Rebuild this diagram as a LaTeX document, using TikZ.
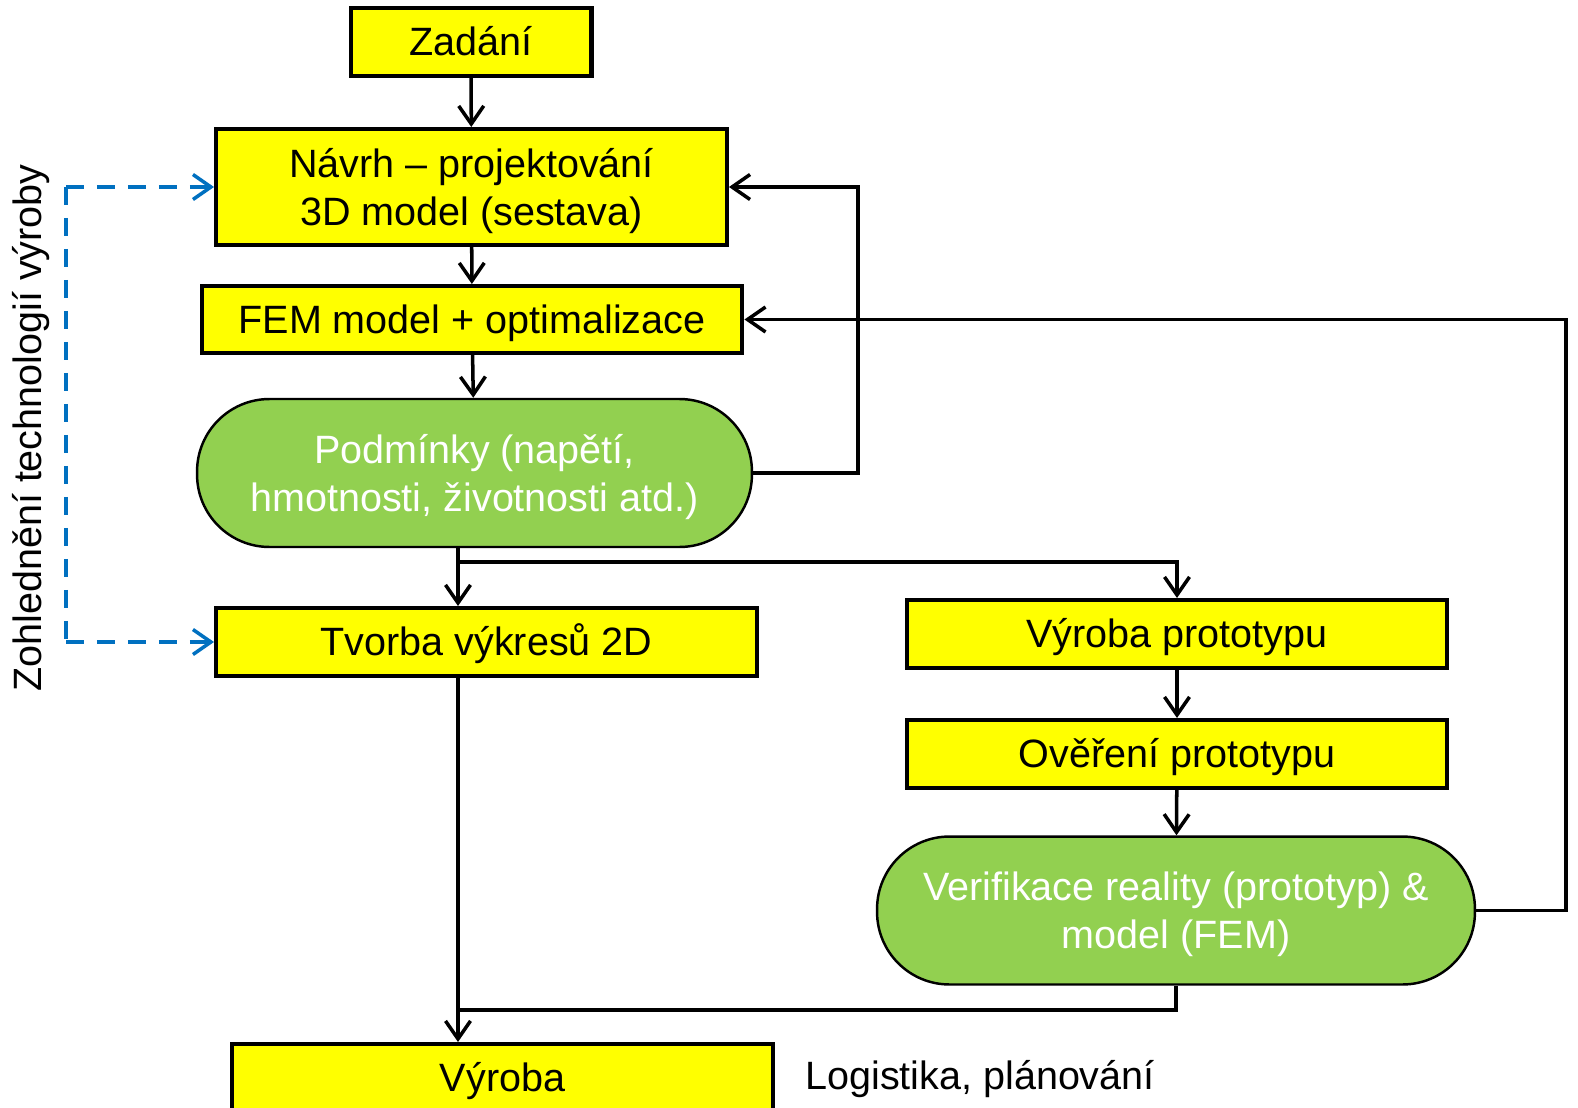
\documentclass[tikz,border=0pt]{standalone}
\usepackage{fontspec}
\setmainfont{Liberation Sans}
\usetikzlibrary{arrows.meta}
\definecolor{yellowbox}{RGB}{255,255,0}
\definecolor{greencond}{RGB}{146,208,80}
\definecolor{bluetech}{RGB}{0,112,192}
\newcommand{\capline}[1]{\vphantom{H}\smash{#1}}
\begin{document}
\begin{tikzpicture}[
    x=0.02cm, y=-0.02cm,
    font=\fontsize{22.5}{27.5}\selectfont,
    box/.style={draw, line width=2.3pt, fill=yellowbox, align=center, inner sep=2pt, minimum height=1.36cm},
    cond/.style={draw, line width=1.4pt, fill=greencond, text=white, align=center, rounded corners=1.45cm, minimum height=2.96cm},
    arr/.style={-{Straight Barb[length=3.6mm, width=5mm, line width=2pt]}, line width=2pt},
    tech/.style={arr, draw=bluetech, line width=2.2pt, dash pattern=on 3.6mm off 2.6mm},
]
\useasboundingbox (0,0) rectangle (1578,1108);

% ============ main column ============
\node[box, minimum width=4.82cm] (zad) at (471, 42) {\capline{Zadání}};
\node[box, minimum width=10.22cm, minimum height=2.32cm] (navrh) at (471.5, 187) {Návrh -- projektování\\ \smash{3D model (sestava)}};
\node[box, minimum width=10.82cm, minimum height=1.34cm] (fem) at (472, 319.5) {\capline{FEM model + optimalizace}};
\node[cond, minimum width=11.1cm] (podm) at (474.5, 473) {Podmínky (napětí,\\ \smash{hmotnosti, životnosti atd.)}};
\node[box, minimum width=10.82cm] (tvorba) at (486.5, 642) {\capline{Tvorba výkresů 2D}};
\node[box, minimum width=10.82cm] (vyroba) at (502.5, 1078) {\capline{Výroba}};
\node[inner sep=0pt, anchor=west] (logist) at (805, 1079) {Logistika, plánování};

% ============ prototype column ============
\node[box, minimum width=10.8cm] (proto) at (1177, 634) {\capline{Výroba prototypu}};
\node[box, minimum width=10.8cm] (overeni) at (1177, 754) {\capline{Ověření prototypu}};
\node[cond, minimum width=11.96cm] (verif) at (1176, 910.5) {Verifikace reality (prototyp) \&\\ \smash{model (FEM)}};

\coordinate (loopA) at (858, 473);
\coordinate (loopB) at (1566, 910.5);
\coordinate (split) at (458, 562);
\coordinate (join)  at (458, 1010);

\draw[arr] (zad) -- (navrh);
\draw[arr] (navrh) -- (fem);
\draw[arr] (fem) -- (podm);
\draw[arr] (podm.east) -- (loopA) |- (navrh.east);
\draw[arr] (verif.east) -- (loopB) |- (fem.east);
\draw[arr] (podm.south -| split) -- (tvorba.north -| split);
\draw[arr] (split) -| (proto.north);
\draw[arr] (proto) -- (overeni);
\draw[arr] (overeni) -- (verif);
\draw[arr] (tvorba.south -| split) -- (vyroba.north -| split);
\draw[line width=2pt] (verif.south) |- (join);

% ============ side: technology ============
\node[rotate=90] (techlab) at (31, 428) {Zohlednění technologií výroby};
\coordinate (techTop) at (66, 187);
\coordinate (techBot) at (66, 642);
\draw[tech, -] (techTop) -- (techBot);
\draw[tech] (techTop) -- (navrh.west);
\draw[tech] (techBot) -- (tvorba.west);

\end{tikzpicture}
\end{document}
